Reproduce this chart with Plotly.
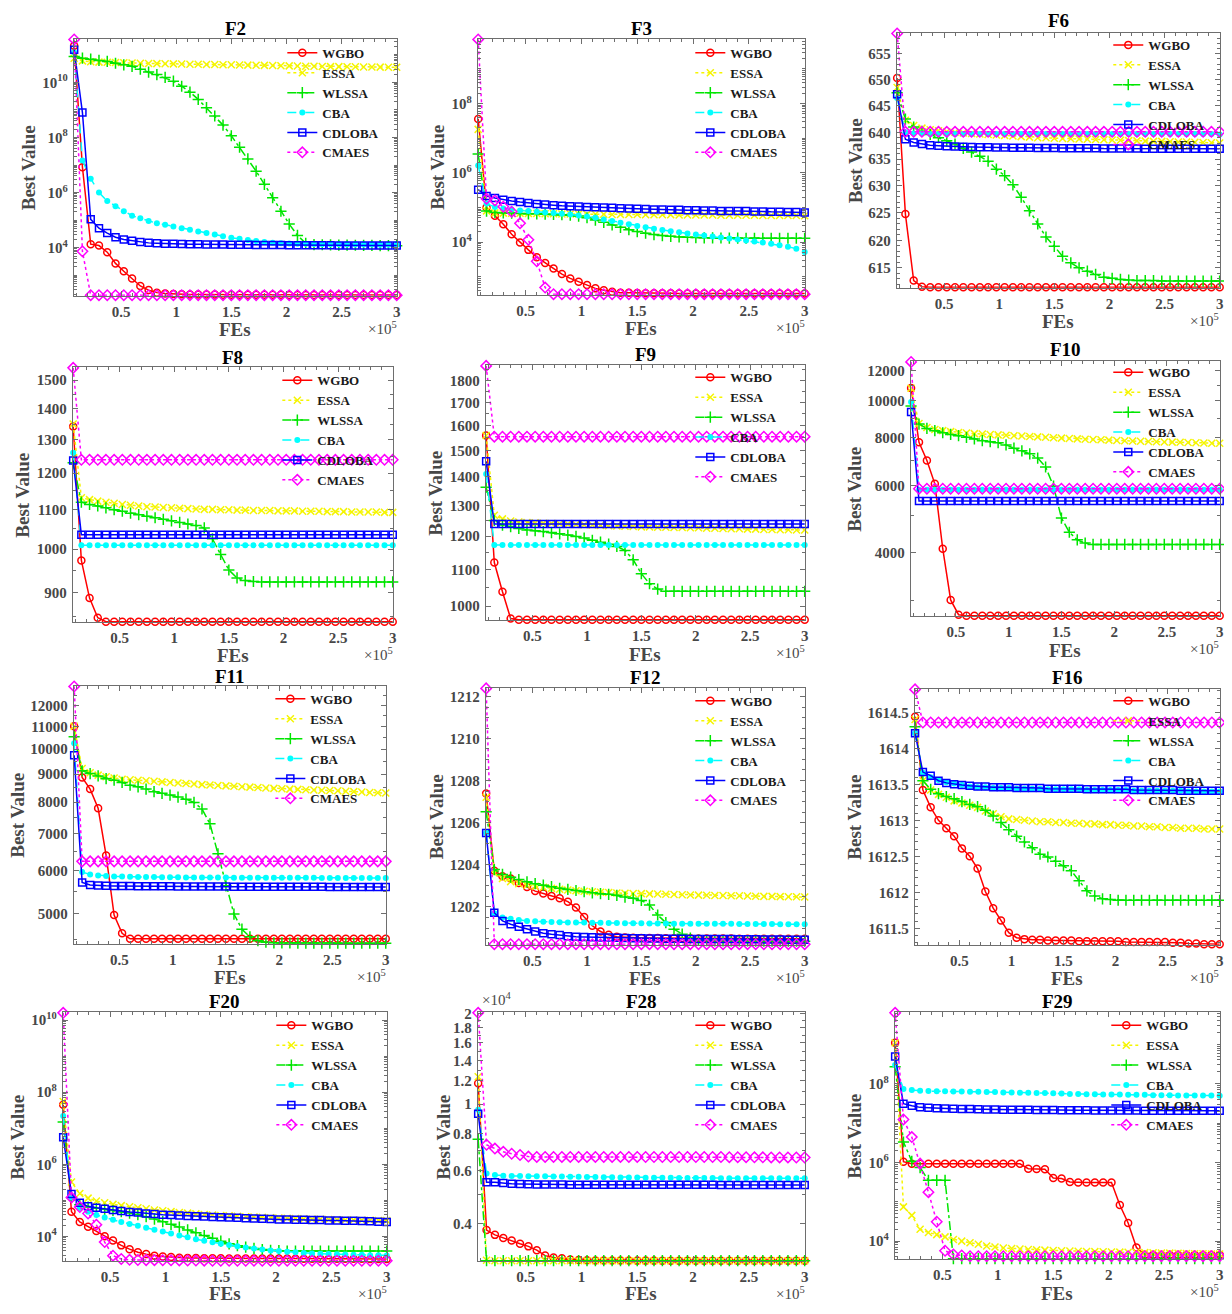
import math
import plotly.graph_objects as go

# ---------------- data ----------------
FES = [7500, 15000, 22500, 30000, 37500, 45000, 52500, 60000, 67500, 75000,
       82500, 90000, 97500, 105000, 112500, 120000, 127500, 135000, 142500, 150000,
       157500, 165000, 172500, 180000, 187500, 195000, 202500, 210000, 217500, 225000,
       232500, 240000, 247500, 255000, 262500, 270000, 277500, 285000, 292500, 300000]
XTICK_VALS = [50000, 100000, 150000, 200000, 250000, 300000]
XTICK_TEXT = ["0.5", "1", "1.5", "2", "2.5", "3"]
METHODS = ["WGBO", "ESSA", "WLSSA", "CBA", "CDLOBA", "CMAES"]

F2_WGBO = [2.1e11, 8.3e6, 1.35e4, 1.2e4, 6.9e3, 2.7e3, 1.4e3, 770, 410, 290,
           235, 218, 210, 206, 203, 201, 200, 199, 198, 197,
           197, 196, 196, 195, 195, 195, 194, 194, 194, 194,
           193, 193, 193, 193, 193, 192, 192, 192, 192, 192]
F2_ESSA = [7.5e10, 6.0e10, 5.6e10, 5.4e10, 5.3e10, 5.2e10, 5.1e10, 5.0e10, 4.9e10, 4.8e10,
           4.75e10, 4.7e10, 4.65e10, 4.6e10, 4.55e10, 4.5e10, 4.45e10, 4.4e10, 4.35e10, 4.3e10,
           4.25e10, 4.2e10, 4.15e10, 4.1e10, 4.05e10, 4.0e10, 3.95e10, 3.9e10, 3.85e10, 3.8e10,
           3.75e10, 3.7e10, 3.7e10, 3.65e10, 3.65e10, 3.6e10, 3.6e10, 3.55e10, 3.5e10, 3.5e10]
F2_WLSSA = [8.6e10, 7.5e10, 6.9e10, 6.2e10, 5.7e10, 4.9e10, 4.3e10, 3.8e10, 3.0e10, 2.35e10,
            1.9e10, 1.5e10, 1.1e10, 7.2e9, 4.4e9, 2.4e9, 1.2e9, 6.0e8, 2.8e8, 1.15e8,
            4.4e7, 1.66e7, 6.0e6, 2.0e6, 6.5e5, 2.1e5, 7.2e4, 2.8e4, 1.45e4, 1.3e4,
            1.28e4, 1.26e4, 1.25e4, 1.24e4, 1.23e4, 1.22e4, 1.21e4, 1.2e4, 1.2e4, 1.19e4]
F2_CBA = [1.2e11, 1.45e7, 3.2e6, 1.0e6, 4.9e5, 3.2e5, 2.1e5, 1.45e5, 1.17e5, 9.4e4,
          7.7e4, 6.8e4, 5.9e4, 5.1e4, 4.5e4, 3.9e4, 3.4e4, 3.0e4, 2.6e4, 2.3e4,
          2.1e4, 1.9e4, 1.75e4, 1.6e4, 1.5e4, 1.45e4, 1.42e4, 1.4e4, 1.38e4, 1.36e4,
          1.35e4, 1.34e4, 1.33e4, 1.32e4, 1.31e4, 1.3e4, 1.3e4, 1.29e4, 1.28e4, 1.28e4]
F2_CDLOBA = [1.5e11, 8.0e8, 1.07e5, 5.1e4, 3.4e4, 2.4e4, 2.0e4, 1.8e4, 1.6e4, 1.5e4,
             1.45e4, 1.4e4, 1.38e4, 1.36e4, 1.34e4, 1.33e4, 1.32e4, 1.31e4, 1.3e4, 1.29e4,
             1.28e4, 1.27e4, 1.26e4, 1.26e4, 1.25e4, 1.25e4, 1.24e4, 1.24e4, 1.23e4, 1.23e4,
             1.22e4, 1.22e4, 1.21e4, 1.21e4, 1.21e4, 1.2e4, 1.2e4, 1.2e4, 1.2e4, 1.2e4]
F2_CMAES = [3.6e11, 7.4e3, 190, 190, 190, 190, 190, 190, 190, 190,
            190, 190, 190, 190, 190, 190, 190, 190, 190, 190,
            190, 190, 190, 190, 190, 190, 190, 190, 190, 190,
            190, 190, 190, 190, 190, 190, 190, 190, 190, 190]

F3_WGBO = [3.6e7, 1.0e5, 5.8e4, 3.3e4, 1.7e4, 9.8e3, 6.0e3, 3.7e3, 2.5e3, 1.74e3,
           1.2e3, 900, 720, 580, 465, 410, 370, 350, 345, 340,
           338, 336, 335, 334, 333, 332, 332, 331, 331, 330,
           330, 330, 329, 329, 329, 328, 328, 328, 328, 328]
F3_ESSA = [1.8e7, 8.0e4, 7.0e4, 6.9e4, 6.8e4, 6.8e4, 6.7e4, 6.7e4, 6.6e4, 6.6e4,
           6.5e4, 6.5e4, 6.5e4, 6.4e4, 6.4e4, 6.4e4, 6.3e4, 6.3e4, 6.3e4, 6.3e4,
           6.2e4, 6.2e4, 6.2e4, 6.2e4, 6.1e4, 6.1e4, 6.1e4, 6.1e4, 6.1e4, 6.0e4,
           6.0e4, 6.0e4, 6.0e4, 6.0e4, 5.9e4, 5.9e4, 5.9e4, 5.9e4, 5.9e4, 5.8e4]
F3_WLSSA = [3.5e6, 7.9e4, 7.2e4, 7.0e4, 6.9e4, 6.7e4, 6.6e4, 6.6e4, 6.4e4, 6.3e4,
            6.2e4, 6.0e4, 5.65e4, 5.07e4, 4.35e4, 3.73e4, 3.13e4, 2.68e4, 2.3e4, 2.02e4,
            1.81e4, 1.66e4, 1.55e4, 1.48e4, 1.42e4, 1.39e4, 1.36e4, 1.34e4, 1.33e4, 1.32e4,
            1.31e4, 1.31e4, 1.3e4, 1.3e4, 1.3e4, 1.3e4, 1.3e4, 1.3e4, 1.3e4, 1.3e4]
F3_CBA = [1.62e6, 1.3e5, 1.04e5, 9.4e4, 8.8e4, 8.2e4, 7.9e4, 7.5e4, 7.2e4, 6.9e4,
          6.6e4, 6.3e4, 5.9e4, 5.5e4, 5.07e4, 4.54e4, 4.07e4, 3.65e4, 3.27e4, 2.93e4,
          2.68e4, 2.46e4, 2.25e4, 2.06e4, 1.93e4, 1.77e4, 1.66e4, 1.55e4, 1.45e4, 1.36e4,
          1.27e4, 1.19e4, 1.12e4, 1.04e4, 9.8e3, 9.0e3, 8.2e3, 7.4e3, 6.5e3, 5.2e3]
F3_CDLOBA = [3.27e5, 2.15e5, 1.89e5, 1.69e5, 1.55e5, 1.45e5, 1.36e5, 1.27e5, 1.22e5, 1.17e5,
             1.12e5, 1.09e5, 1.07e5, 1.04e5, 1.02e5, 1.0e5, 9.8e4, 9.5e4, 9.4e4, 9.2e4,
             9.0e4, 8.8e4, 8.8e4, 8.6e4, 8.6e4, 8.4e4, 8.4e4, 8.2e4, 8.2e4, 8.0e4,
             8.0e4, 7.9e4, 7.9e4, 7.7e4, 7.7e4, 7.5e4, 7.5e4, 7.4e4, 7.4e4, 7.2e4]
F3_CMAES = [7.1e9, 1.8e5, 1.6e5, 1.05e5, 7.6e4, 3.5e4, 1.17e4, 2.8e3, 490, 316,
            316, 316, 316, 316, 316, 316, 316, 316, 316, 316,
            316, 316, 316, 316, 316, 316, 316, 316, 316, 316,
            316, 316, 316, 316, 316, 316, 316, 316, 316, 316]

F6_WGBO = [650.3, 624.8, 612.7, 611.6, 611.5, 611.5, 611.5, 611.5, 611.5, 611.5,
           611.5, 611.5, 611.5, 611.5, 611.5, 611.5, 611.5, 611.5, 611.5, 611.5,
           611.5, 611.5, 611.5, 611.5, 611.5, 611.5, 611.5, 611.5, 611.5, 611.5,
           611.5, 611.5, 611.5, 611.5, 611.5, 611.5, 611.5, 611.5, 611.5, 611.5]
F6_ESSA = [648.5, 642.3, 641.3, 640.8, 640.5, 640.3, 640.1, 640.0, 639.9, 639.8,
           639.7, 639.6, 639.5, 639.4, 639.3, 639.2, 639.1, 639.0, 639.0, 638.9,
           638.85, 638.8, 638.75, 638.7, 638.65, 638.6, 638.55, 638.5, 638.45, 638.4,
           638.35, 638.3, 638.3, 638.25, 638.2, 638.2, 638.15, 638.1, 638.05, 638.0]
F6_WLSSA = [647.5, 642.5, 641.0, 640.2, 639.6, 639.0, 638.4, 637.8, 637.0, 636.3,
            635.5, 634.6, 633.1, 631.9, 630.2, 627.9, 625.4, 623.0, 620.6, 618.9,
            617.1, 615.9, 615.0, 614.4, 613.8, 613.3, 613.1, 612.9, 612.8, 612.7,
            612.7, 612.7, 612.6, 612.6, 612.6, 612.6, 612.6, 612.6, 612.6, 612.6]
F6_CBA = [646.5, 640.0, 639.8, 639.8, 639.7, 639.7, 639.7, 639.7, 639.7, 639.7,
          639.7, 639.7, 639.7, 639.7, 639.7, 639.7, 639.7, 639.7, 639.7, 639.7,
          639.7, 639.7, 639.7, 639.7, 639.7, 639.7, 639.7, 639.7, 639.7, 639.7,
          639.7, 639.7, 639.7, 639.7, 639.7, 639.7, 639.7, 639.7, 639.7, 639.6]
F6_CDLOBA = [647.2, 638.7, 638.1, 637.8, 637.6, 637.5, 637.4, 637.35, 637.3, 637.25,
             637.2, 637.2, 637.15, 637.15, 637.1, 637.1, 637.1, 637.05, 637.05, 637.05,
             637.0, 637.0, 637.0, 637.0, 637.0, 636.95, 636.95, 636.95, 636.95, 636.95,
             636.9, 636.9, 636.9, 636.9, 636.9, 636.9, 636.9, 636.9, 636.9, 636.9]
F6_CMAES = [658.9, 640.1, 640.1, 640.1, 640.1, 640.1, 640.1, 640.1, 640.1, 640.1,
            640.1, 640.1, 640.1, 640.1, 640.1, 640.1, 640.1, 640.1, 640.1, 640.1,
            640.1, 640.1, 640.1, 640.1, 640.1, 640.1, 640.1, 640.1, 640.1, 640.1,
            640.1, 640.1, 640.1, 640.1, 640.1, 640.1, 640.1, 640.1, 640.1, 640.1]

F8_WGBO = [1342, 973, 889, 848, 840, 840, 840, 840, 840, 840,
           840, 840, 840, 840, 840, 840, 840, 840, 840, 840,
           840, 840, 840, 840, 840, 840, 840, 840, 840, 840,
           840, 840, 840, 840, 840, 840, 840, 840, 840, 840]
F8_ESSA = [1350, 1131, 1126, 1122, 1119, 1116, 1113, 1111, 1109, 1107,
           1106, 1105, 1104, 1103, 1102, 1101, 1100, 1100, 1099, 1099,
           1098, 1098, 1097, 1097, 1097, 1096, 1096, 1096, 1095, 1095,
           1095, 1094, 1094, 1094, 1093, 1093, 1093, 1093, 1092, 1092]
F8_WLSSA = [1230, 1119, 1113, 1109, 1104, 1099, 1095, 1090, 1086, 1082,
            1078, 1074, 1070, 1066, 1062, 1058, 1052, 1025, 987, 951,
            933, 927, 925, 924, 924, 924, 924, 924, 924, 924,
            924, 924, 924, 924, 924, 924, 924, 924, 924, 924]
F8_CBA = [1260, 1009, 1009, 1009, 1009, 1009, 1009, 1009, 1009, 1009,
          1009, 1009, 1009, 1009, 1009, 1009, 1009, 1009, 1009, 1009,
          1009, 1009, 1009, 1009, 1009, 1009, 1009, 1009, 1009, 1009,
          1009, 1009, 1009, 1009, 1009, 1009, 1009, 1009, 1009, 1009]
F8_CDLOBA = [1237, 1035, 1035, 1035, 1035, 1035, 1035, 1035, 1035, 1035,
             1035, 1035, 1035, 1035, 1035, 1035, 1035, 1035, 1035, 1035,
             1035, 1035, 1035, 1035, 1035, 1035, 1035, 1035, 1035, 1035,
             1035, 1035, 1035, 1035, 1035, 1035, 1035, 1035, 1035, 1035]
F8_CMAES = [1545, 1239, 1239, 1239, 1239, 1239, 1239, 1239, 1239, 1239,
            1239, 1239, 1239, 1239, 1239, 1239, 1239, 1239, 1239, 1239,
            1239, 1239, 1239, 1239, 1239, 1239, 1239, 1239, 1239, 1239,
            1239, 1239, 1239, 1239, 1239, 1239, 1239, 1239, 1239, 1239]

F9_WGBO = [1560, 1120, 1038, 968, 965, 965, 965, 965, 965, 965,
           965, 965, 965, 965, 965, 965, 965, 965, 965, 965,
           965, 965, 965, 965, 965, 965, 965, 965, 965, 965,
           965, 965, 965, 965, 965, 965, 965, 965, 965, 965]
F9_ESSA = [1560, 1267, 1255, 1248, 1245, 1243, 1242, 1241, 1240, 1239,
           1238, 1237, 1236, 1235, 1234, 1233, 1232, 1231, 1230, 1229,
           1229, 1228, 1228, 1227, 1227, 1226, 1226, 1225, 1225, 1224,
           1223, 1223, 1222, 1222, 1221, 1221, 1220, 1220, 1219, 1219]
F9_WLSSA = [1363, 1250, 1235, 1230, 1224, 1219, 1217, 1214, 1211, 1207,
            1203, 1199, 1194, 1187, 1181, 1175, 1168, 1156, 1128, 1088,
            1060, 1045, 1039, 1039, 1039, 1039, 1039, 1039, 1039, 1039,
            1039, 1039, 1039, 1039, 1039, 1039, 1039, 1039, 1039, 1039]
F9_CBA = [1411, 1172, 1172, 1172, 1172, 1172, 1172, 1172, 1172, 1172,
          1172, 1172, 1172, 1172, 1172, 1172, 1172, 1172, 1172, 1172,
          1172, 1172, 1172, 1172, 1172, 1172, 1172, 1172, 1172, 1172,
          1172, 1172, 1172, 1172, 1172, 1172, 1172, 1172, 1172, 1172]
F9_CDLOBA = [1458, 1238, 1238, 1238, 1238, 1238, 1238, 1238, 1238, 1238,
             1238, 1238, 1238, 1238, 1238, 1238, 1238, 1238, 1238, 1238,
             1238, 1238, 1238, 1238, 1238, 1238, 1238, 1238, 1238, 1238,
             1238, 1238, 1238, 1238, 1238, 1238, 1238, 1238, 1238, 1238]
F9_CMAES = [1870, 1555, 1555, 1555, 1555, 1555, 1555, 1555, 1555, 1555,
            1555, 1555, 1555, 1555, 1555, 1555, 1555, 1555, 1555, 1555,
            1555, 1555, 1555, 1555, 1555, 1555, 1555, 1555, 1555, 1555,
            1555, 1555, 1555, 1555, 1555, 1555, 1555, 1555, 1555, 1555]

F10_WGBO = [10820, 7790, 6985, 6063, 4098, 3009, 2751, 2735, 2735, 2735,
            2735, 2735, 2735, 2735, 2735, 2735, 2735, 2735, 2735, 2735,
            2735, 2735, 2735, 2735, 2735, 2735, 2735, 2735, 2735, 2735,
            2735, 2735, 2735, 2735, 2735, 2735, 2735, 2735, 2735, 2735]
F10_ESSA = [10800, 8730, 8520, 8420, 8360, 8310, 8270, 8240, 8210, 8190,
            8170, 8150, 8130, 8110, 8090, 8070, 8050, 8030, 8010, 7990,
            7970, 7955, 7940, 7925, 7910, 7895, 7880, 7865, 7850, 7840,
            7830, 7820, 7810, 7800, 7790, 7780, 7770, 7760, 7750, 7745]
F10_WLSSA = [9700, 8700, 8470, 8360, 8254, 8170, 8110, 8030, 7950, 7870,
             7820, 7770, 7670, 7518, 7400, 7268, 7085, 6712, 5979, 4932,
             4526, 4324, 4239, 4205, 4205, 4205, 4205, 4205, 4205, 4205,
             4205, 4205, 4205, 4205, 4205, 4205, 4205, 4205, 4205, 4205]
F10_CBA = [9934, 5850, 5850, 5850, 5850, 5850, 5850, 5850, 5850, 5850,
           5850, 5850, 5850, 5850, 5850, 5850, 5850, 5850, 5850, 5850,
           5850, 5850, 5850, 5850, 5850, 5850, 5850, 5850, 5850, 5850,
           5850, 5850, 5850, 5850, 5850, 5850, 5850, 5850, 5850, 5850]
F10_CDLOBA = [9358, 5467, 5467, 5467, 5467, 5467, 5467, 5467, 5467, 5467,
              5467, 5467, 5467, 5467, 5467, 5467, 5467, 5467, 5467, 5467,
              5467, 5467, 5467, 5467, 5467, 5467, 5467, 5467, 5467, 5467,
              5467, 5467, 5467, 5467, 5467, 5467, 5467, 5467, 5467, 5467]
F10_CMAES = [12660, 5886, 5886, 5886, 5886, 5886, 5886, 5886, 5886, 5886,
             5886, 5886, 5886, 5886, 5886, 5886, 5886, 5886, 5886, 5886,
             5886, 5886, 5886, 5886, 5886, 5886, 5886, 5886, 5886, 5886,
             5886, 5886, 5886, 5886, 5886, 5886, 5886, 5886, 5886, 5886]

F11_WGBO = [11000, 8872, 8450, 7795, 6395, 4977, 4611, 4504, 4504, 4504,
            4504, 4504, 4504, 4504, 4504, 4504, 4504, 4504, 4504, 4504,
            4504, 4504, 4504, 4504, 4504, 4504, 4504, 4504, 4504, 4504,
            4504, 4504, 4504, 4504, 4504, 4504, 4504, 4504, 4504, 4504]
F11_ESSA = [11000, 9211, 9050, 8960, 8900, 8850, 8810, 8790, 8770, 8750,
            8730, 8710, 8690, 8670, 8650, 8630, 8610, 8595, 8580, 8565,
            8550, 8535, 8520, 8505, 8490, 8475, 8460, 8450, 8440, 8430,
            8420, 8410, 8400, 8390, 8375, 8360, 8345, 8330, 8320, 8310]
F11_WLSSA = [10530, 9123, 9020, 8930, 8830, 8770, 8690, 8590, 8530, 8450,
             8360, 8300, 8240, 8170, 8100, 7991, 7773, 7302, 6439, 5627,
             4999, 4690, 4542, 4470, 4440, 4430, 4428, 4426, 4425, 4425,
             4424, 4424, 4424, 4423, 4423, 4423, 4423, 4423, 4423, 4423]
F11_CBA = [10240, 5966, 5900, 5880, 5865, 5855, 5850, 5845, 5842, 5840,
           5838, 5836, 5834, 5832, 5831, 5830, 5829, 5828, 5827, 5826,
           5825, 5824, 5823, 5823, 5822, 5822, 5821, 5821, 5820, 5820,
           5820, 5819, 5819, 5819, 5818, 5818, 5818, 5817, 5817, 5817]
F11_CDLOBA = [9739, 5706, 5650, 5635, 5627, 5625, 5623, 5621, 5620, 5619,
              5618, 5617, 5616, 5615, 5614, 5613, 5612, 5611, 5610, 5610,
              5609, 5609, 5608, 5608, 5607, 5607, 5606, 5606, 5605, 5605,
              5604, 5604, 5603, 5603, 5602, 5602, 5601, 5601, 5600, 5600]
F11_CMAES = [13010, 6237, 6237, 6237, 6237, 6237, 6237, 6237, 6237, 6237,
             6237, 6237, 6237, 6237, 6237, 6237, 6237, 6237, 6237, 6237,
             6237, 6237, 6237, 6237, 6237, 6237, 6237, 6237, 6237, 6237,
             6237, 6237, 6237, 6237, 6237, 6237, 6237, 6237, 6237, 6237]

F12_WGBO = [1207.38, 1203.72, 1203.46, 1203.35, 1203.14, 1202.94, 1202.75, 1202.64, 1202.52, 1202.41,
            1202.25, 1201.97, 1201.53, 1201.11, 1200.84, 1200.68, 1200.59, 1200.56, 1200.54, 1200.53,
            1200.53, 1200.53, 1200.52, 1200.52, 1200.52, 1200.52, 1200.51, 1200.51, 1200.51, 1200.51,
            1200.51, 1200.5, 1200.5, 1200.5, 1200.5, 1200.5, 1200.5, 1200.5, 1200.5, 1200.5]
F12_ESSA = [1207.2, 1203.6, 1203.35, 1203.2, 1203.1, 1203.03, 1202.98, 1202.93, 1202.88, 1202.84,
            1202.8, 1202.77, 1202.74, 1202.72, 1202.7, 1202.68, 1202.66, 1202.65, 1202.64, 1202.63,
            1202.62, 1202.61, 1202.6, 1202.59, 1202.58, 1202.57, 1202.56, 1202.55, 1202.54, 1202.54,
            1202.53, 1202.53, 1202.52, 1202.51, 1202.5, 1202.5, 1202.49, 1202.48, 1202.48, 1202.47]
F12_WLSSA = [1206.51, 1203.77, 1203.54, 1203.41, 1203.3, 1203.19, 1203.1, 1203.03, 1202.96, 1202.88,
             1202.83, 1202.78, 1202.72, 1202.67, 1202.63, 1202.6, 1202.55, 1202.47, 1202.41, 1202.31,
             1202.09, 1201.62, 1201.26, 1200.95, 1200.71, 1200.53, 1200.43, 1200.41, 1200.4, 1200.4,
             1200.39, 1200.39, 1200.39, 1200.38, 1200.38, 1200.38, 1200.38, 1200.38, 1200.38, 1200.38]
F12_CBA = [1205.5, 1201.7, 1201.5, 1201.44, 1201.38, 1201.34, 1201.32, 1201.3, 1201.29, 1201.28,
           1201.27, 1201.26, 1201.26, 1201.25, 1201.25, 1201.24, 1201.24, 1201.23, 1201.23, 1201.23,
           1201.22, 1201.22, 1201.22, 1201.21, 1201.21, 1201.21, 1201.2, 1201.2, 1201.2, 1201.2,
           1201.2, 1201.19, 1201.19, 1201.19, 1201.19, 1201.19, 1201.18, 1201.18, 1201.18, 1201.18]
F12_CDLOBA = [1205.5, 1201.73, 1201.34, 1201.18, 1201.06, 1200.95, 1200.84, 1200.76, 1200.71, 1200.67,
              1200.62, 1200.59, 1200.58, 1200.57, 1200.56, 1200.55, 1200.54, 1200.53, 1200.52, 1200.52,
              1200.51, 1200.51, 1200.5, 1200.5, 1200.5, 1200.49, 1200.49, 1200.49, 1200.48, 1200.48,
              1200.48, 1200.47, 1200.47, 1200.47, 1200.46, 1200.46, 1200.46, 1200.45, 1200.45, 1200.45]
F12_CMAES = [1212.39, 1200.24, 1200.24, 1200.24, 1200.24, 1200.24, 1200.24, 1200.24, 1200.24, 1200.24,
             1200.24, 1200.24, 1200.24, 1200.24, 1200.24, 1200.24, 1200.24, 1200.24, 1200.24, 1200.24,
             1200.24, 1200.24, 1200.24, 1200.24, 1200.24, 1200.24, 1200.24, 1200.24, 1200.24, 1200.24,
             1200.24, 1200.24, 1200.24, 1200.24, 1200.24, 1200.24, 1200.24, 1200.24, 1200.24, 1200.24]

F16_WGBO = [1614.44, 1613.42, 1613.18, 1613.0, 1612.89, 1612.78, 1612.61, 1612.5, 1612.33, 1612.01,
            1611.78, 1611.61, 1611.44, 1611.37, 1611.35, 1611.34, 1611.34, 1611.33, 1611.33, 1611.33,
            1611.33, 1611.32, 1611.32, 1611.32, 1611.32, 1611.32, 1611.32, 1611.31, 1611.31, 1611.31,
            1611.31, 1611.31, 1611.31, 1611.3, 1611.3, 1611.29, 1611.29, 1611.28, 1611.28, 1611.28]
F16_ESSA = [1614.4, 1613.55, 1613.42, 1613.36, 1613.32, 1613.27, 1613.24, 1613.21, 1613.18, 1613.13,
            1613.09, 1613.05, 1613.02, 1613.01, 1613.0, 1612.99, 1612.98, 1612.98, 1612.97, 1612.97,
            1612.96, 1612.96, 1612.95, 1612.95, 1612.94, 1612.94, 1612.93, 1612.93, 1612.92, 1612.92,
            1612.91, 1612.91, 1612.9, 1612.9, 1612.89, 1612.89, 1612.89, 1612.88, 1612.88, 1612.88]
F16_WLSSA = [1614.3, 1613.55, 1613.43, 1613.37, 1613.33, 1613.3, 1613.26, 1613.22, 1613.19, 1613.14,
             1613.06, 1612.97, 1612.87, 1612.78, 1612.7, 1612.62, 1612.53, 1612.49, 1612.43, 1612.37,
             1612.3, 1612.16, 1612.02, 1611.95, 1611.91, 1611.9, 1611.89, 1611.89, 1611.89, 1611.89,
             1611.89, 1611.89, 1611.89, 1611.89, 1611.89, 1611.89, 1611.89, 1611.89, 1611.89, 1611.89]
F16_CBA = [1614.21, 1613.66, 1613.6, 1613.56, 1613.53, 1613.51, 1613.49, 1613.47, 1613.46, 1613.46,
           1613.45, 1613.45, 1613.45, 1613.44, 1613.44, 1613.44, 1613.44, 1613.43, 1613.43, 1613.43,
           1613.43, 1613.43, 1613.42, 1613.42, 1613.42, 1613.42, 1613.42, 1613.42, 1613.41, 1613.41,
           1613.41, 1613.41, 1613.41, 1613.41, 1613.41, 1613.4, 1613.4, 1613.4, 1613.4, 1613.4]
F16_CDLOBA = [1614.21, 1613.67, 1613.62, 1613.55, 1613.52, 1613.5, 1613.49, 1613.48, 1613.47, 1613.47,
              1613.46, 1613.46, 1613.46, 1613.45, 1613.45, 1613.45, 1613.45, 1613.44, 1613.44, 1613.44,
              1613.44, 1613.44, 1613.43, 1613.43, 1613.43, 1613.43, 1613.43, 1613.43, 1613.42, 1613.42,
              1613.42, 1613.42, 1613.42, 1613.42, 1613.41, 1613.41, 1613.41, 1613.41, 1613.41, 1613.41]
F16_CMAES = [1614.82, 1614.36, 1614.36, 1614.36, 1614.36, 1614.36, 1614.36, 1614.36, 1614.36, 1614.36,
             1614.36, 1614.36, 1614.36, 1614.36, 1614.36, 1614.36, 1614.36, 1614.36, 1614.36, 1614.36,
             1614.36, 1614.36, 1614.36, 1614.36, 1614.36, 1614.36, 1614.36, 1614.36, 1614.36, 1614.36,
             1614.36, 1614.36, 1614.36, 1614.36, 1614.36, 1614.36, 1614.36, 1614.36, 1614.36, 1614.36]

F20_WGBO = [4.5e7, 4.8e4, 2.5e4, 1.84e4, 1.4e4, 1.0e4, 7.6e3, 5.6e3, 4.4e3, 3.6e3,
            3.2e3, 2.9e3, 2.75e3, 2.65e3, 2.55e3, 2.5e3, 2.48e3, 2.46e3, 2.45e3, 2.44e3,
            2.43e3, 2.42e3, 2.42e3, 2.41e3, 2.41e3, 2.4e3, 2.4e3, 2.4e3, 2.39e3, 2.39e3,
            2.39e3, 2.38e3, 2.38e3, 2.38e3, 2.37e3, 2.37e3, 2.37e3, 2.36e3, 2.36e3, 2.36e3]
F20_ESSA = [5.5e7, 3.2e5, 1.55e5, 1.15e5, 9.5e4, 8.5e4, 7.7e4, 7.1e4, 6.6e4, 6.2e4,
            5.8e4, 5.4e4, 5.1e4, 4.85e4, 4.6e4, 4.4e4, 4.2e4, 4.05e4, 3.9e4, 3.8e4,
            3.7e4, 3.6e4, 3.5e4, 3.42e4, 3.35e4, 3.28e4, 3.22e4, 3.16e4, 3.1e4, 3.05e4,
            3.0e4, 2.96e4, 2.92e4, 2.88e4, 2.85e4, 2.82e4, 2.8e4, 2.78e4, 2.76e4, 2.75e4]
F20_WLSSA = [1.5e7, 1.2e5, 7.5e4, 6.5e4, 6.0e4, 5.6e4, 5.2e4, 4.8e4, 4.4e4, 4.0e4,
             3.5e4, 3.0e4, 2.55e4, 2.15e4, 1.8e4, 1.5e4, 1.25e4, 1.05e4, 8.8e3, 7.3e3,
             6.2e3, 5.5e3, 5.0e3, 4.6e3, 4.3e3, 4.1e3, 4.0e3, 3.9e3, 3.9e3, 3.9e3,
             3.9e3, 3.9e3, 3.9e3, 3.9e3, 3.9e3, 3.9e3, 3.9e3, 3.9e3, 3.9e3, 3.9e3]
F20_CBA = [2.2e7, 1.2e5, 6.25e4, 4.8e4, 3.9e4, 3.3e4, 2.88e4, 2.5e4, 2.2e4, 1.95e4,
           1.73e4, 1.53e4, 1.35e4, 1.2e4, 1.06e4, 9.4e3, 8.3e3, 7.5e3, 6.8e3, 6.2e3,
           5.7e3, 5.3e3, 4.9e3, 4.6e3, 4.3e3, 4.06e3, 3.9e3, 3.74e3, 3.6e3, 3.45e3,
           3.35e3, 3.3e3, 3.2e3, 3.18e3, 3.1e3, 3.05e3, 3.05e3, 3.0e3, 3.0e3, 2.95e3]
F20_CDLOBA = [5.6e6, 1.5e5, 8.5e4, 6.8e4, 6.25e4, 5.8e4, 5.4e4, 5.0e4, 4.7e4, 4.6e4,
              4.3e4, 4.16e4, 3.99e4, 3.9e4, 3.75e4, 3.67e4, 3.6e4, 3.53e4, 3.46e4, 3.39e4,
              3.32e4, 3.25e4, 3.19e4, 3.12e4, 3.06e4, 3.0e4, 2.94e4, 2.94e4, 2.88e4, 2.88e4,
              2.82e4, 2.82e4, 2.76e4, 2.76e4, 2.71e4, 2.71e4, 2.65e4, 2.6e4, 2.55e4, 2.5e4]
F20_CMAES = [1.6e10, 1.2e5, 6.5e4, 4.3e4, 2.1e4, 6.9e3, 2.9e3, 2.34e3, 2.22e3, 2.2e3,
             2.18e3, 2.17e3, 2.16e3, 2.15e3, 2.14e3, 2.13e3, 2.12e3, 2.11e3, 2.1e3, 2.1e3,
             2.1e3, 2.1e3, 2.1e3, 2.1e3, 2.1e3, 2.1e3, 2.1e3, 2.1e3, 2.1e3, 2.1e3,
             2.1e3, 2.1e3, 2.1e3, 2.1e3, 2.1e3, 2.1e3, 2.1e3, 2.1e3, 2.1e3, 2.1e3]

F28_WGBO = [11750, 3808, 3671, 3583, 3513, 3428, 3361, 3265, 3131, 3085,
            3070, 3040, 3025, 3020, 3018, 3016, 3015, 3014, 3014, 3013,
            3013, 3013, 3012, 3012, 3012, 3012, 3012, 3012, 3011, 3011,
            3011, 3011, 3011, 3011, 3011, 3011, 3011, 3011, 3011, 3011]
F28_ESSA = [12340, 3020, 3011, 3011, 3011, 3011, 3011, 3011, 3011, 3011,
            3011, 3011, 3011, 3011, 3011, 3011, 3011, 3011, 3011, 3011,
            3011, 3011, 3011, 3011, 3011, 3011, 3011, 3011, 3011, 3011,
            3011, 3011, 3011, 3011, 3011, 3011, 3011, 3011, 3011, 3011]
F28_WLSSA = [7636, 3011, 3011, 3011, 3011, 3011, 3011, 3011, 3011, 3011,
             3011, 3011, 3011, 3011, 3011, 3011, 3011, 3011, 3011, 3011,
             3011, 3011, 3011, 3011, 3011, 3011, 3011, 3011, 3011, 3011,
             3011, 3011, 3011, 3011, 3011, 3011, 3011, 3011, 3011, 3011]
F28_CBA = [9592, 5876, 5805, 5777, 5770, 5765, 5760, 5755, 5750, 5745,
           5740, 5735, 5730, 5725, 5720, 5715, 5710, 5705, 5700, 5695,
           5690, 5688, 5686, 5684, 5682, 5680, 5678, 5676, 5674, 5672,
           5670, 5669, 5668, 5667, 5666, 5665, 5664, 5664, 5663, 5663]
F28_CDLOBA = [9290, 5500, 5500, 5460, 5430, 5420, 5410, 5405, 5400, 5400,
              5398, 5396, 5395, 5394, 5394, 5393, 5393, 5392, 5392, 5391,
              5391, 5390, 5390, 5389, 5389, 5388, 5388, 5387, 5387, 5386,
              5386, 5385, 5385, 5384, 5384, 5383, 5383, 5382, 5382, 5380]
F28_CMAES = [20150, 7325, 7114, 6940, 6839, 6773, 6691, 6675, 6675, 6675,
             6675, 6675, 6675, 6675, 6675, 6675, 6675, 6675, 6675, 6675,
             6670, 6670, 6670, 6670, 6670, 6670, 6670, 6670, 6670, 6670,
             6660, 6660, 6660, 6655, 6655, 6650, 6650, 6650, 6645, 6643]

F29_WGBO = [1.1e9, 1.04e6, 9.2e5, 9.2e5, 9.2e5, 9.2e5, 9.2e5, 9.2e5, 9.2e5, 9.2e5,
            9.2e5, 9.2e5, 9.2e5, 9.2e5, 9.2e5, 9.2e5, 6.9e5, 6.8e5, 6.7e5, 4.0e5,
            3.9e5, 3.19e5, 3.07e5, 3.07e5, 3.07e5, 3.07e5, 3.07e5, 8.3e4, 2.9e4, 6.9e3,
            4.5e3, 4.5e3, 4.5e3, 4.5e3, 4.5e3, 4.5e3, 4.5e3, 4.5e3, 4.5e3, 4.5e3]
F29_ESSA = [1.1e9, 7.4e4, 4.5e4, 2.0e4, 1.66e4, 1.46e4, 1.28e4, 1.1e4, 1.0e4, 9.1e3,
            8.3e3, 7.5e3, 7.1e3, 6.7e3, 6.5e3, 6.3e3, 6.15e3, 6.0e3, 5.9e3, 5.8e3,
            5.7e3, 5.6e3, 5.5e3, 5.45e3, 5.4e3, 5.35e3, 5.3e3, 5.25e3, 5.2e3, 5.15e3,
            5.1e3, 5.05e3, 5.0e3, 4.95e3, 4.9e3, 4.85e3, 4.8e3, 4.75e3, 4.7e3, 4.7e3]
F29_WLSSA = [2.7e8, 3.3e6, 1.07e6, 7.4e5, 3.5e5, 3.5e5, 3.5e5, 3570, 3570, 3570,
             3570, 3570, 3570, 3570, 3570, 3570, 3570, 3570, 3570, 3570,
             3570, 3570, 3570, 3570, 3570, 3570, 3570, 3570, 3570, 3570,
             3570, 3570, 3570, 3570, 3570, 3570, 3570, 3570, 3570, 3570]
F29_CBA = [3.0e8, 7.3e7, 6.9e7, 6.6e7, 6.5e7, 6.4e7, 6.4e7, 6.3e7, 6.3e7, 6.2e7,
           6.2e7, 6.1e7, 6.1e7, 6.0e7, 6.0e7, 5.9e7, 5.9e7, 5.8e7, 5.8e7, 5.7e7,
           5.6e7, 5.5e7, 5.5e7, 5.4e7, 5.4e7, 5.3e7, 5.3e7, 5.3e7, 5.2e7, 5.2e7,
           5.2e7, 5.1e7, 5.1e7, 5.1e7, 5.0e7, 5.0e7, 5.0e7, 5.0e7, 5.0e7, 4.9e7]
F29_CDLOBA = [4.9e8, 3.1e7, 2.75e7, 2.5e7, 2.45e7, 2.37e7, 2.33e7, 2.3e7, 2.28e7, 2.26e7,
              2.24e7, 2.22e7, 2.2e7, 2.19e7, 2.18e7, 2.17e7, 2.16e7, 2.15e7, 2.14e7, 2.13e7,
              2.12e7, 2.11e7, 2.1e7, 2.1e7, 2.09e7, 2.09e7, 2.08e7, 2.08e7, 2.07e7, 2.07e7,
              2.06e7, 2.06e7, 2.06e7, 2.05e7, 2.05e7, 2.05e7, 2.04e7, 2.04e7, 2.04e7, 2.04e7]
F29_CMAES = [6.3e9, 1.23e7, 4.4e6, 9.3e5, 1.75e5, 3.1e4, 5.7e3, 4.56e3, 4.3e3, 4.15e3,
             4.15e3, 4.15e3, 4.15e3, 4.15e3, 4.15e3, 4.15e3, 4.15e3, 4.15e3, 4.15e3, 4.15e3,
             4.15e3, 4.15e3, 4.15e3, 4.15e3, 4.15e3, 4.15e3, 4.15e3, 4.15e3, 4.15e3, 4.15e3,
             4.15e3, 4.15e3, 4.15e3, 4.15e3, 4.15e3, 4.15e3, 4.15e3, 4.15e3, 4.15e3, 4.15e3]

FUNCS = ["F2", "F3", "F6", "F8", "F9", "F10", "F11", "F12", "F16", "F20", "F28", "F29"]
SERIES = {
    "F2": [F2_WGBO, F2_ESSA, F2_WLSSA, F2_CBA, F2_CDLOBA, F2_CMAES],
    "F3": [F3_WGBO, F3_ESSA, F3_WLSSA, F3_CBA, F3_CDLOBA, F3_CMAES],
    "F6": [F6_WGBO, F6_ESSA, F6_WLSSA, F6_CBA, F6_CDLOBA, F6_CMAES],
    "F8": [F8_WGBO, F8_ESSA, F8_WLSSA, F8_CBA, F8_CDLOBA, F8_CMAES],
    "F9": [F9_WGBO, F9_ESSA, F9_WLSSA, F9_CBA, F9_CDLOBA, F9_CMAES],
    "F10": [F10_WGBO, F10_ESSA, F10_WLSSA, F10_CBA, F10_CDLOBA, F10_CMAES],
    "F11": [F11_WGBO, F11_ESSA, F11_WLSSA, F11_CBA, F11_CDLOBA, F11_CMAES],
    "F12": [F12_WGBO, F12_ESSA, F12_WLSSA, F12_CBA, F12_CDLOBA, F12_CMAES],
    "F16": [F16_WGBO, F16_ESSA, F16_WLSSA, F16_CBA, F16_CDLOBA, F16_CMAES],
    "F20": [F20_WGBO, F20_ESSA, F20_WLSSA, F20_CBA, F20_CDLOBA, F20_CMAES],
    "F28": [F28_WGBO, F28_ESSA, F28_WLSSA, F28_CBA, F28_CDLOBA, F28_CMAES],
    "F29": [F29_WGBO, F29_ESSA, F29_WLSSA, F29_CBA, F29_CDLOBA, F29_CMAES],
}


def sup(e):
    return "10<sup>%d</sup>" % e


Y_TICKS = {
    "F2": ([1e4, 1e6, 1e8, 1e10], [sup(4), sup(6), sup(8), sup(10)]),
    "F3": ([1e4, 1e6, 1e8], [sup(4), sup(6), sup(8)]),
    "F6": ([615, 620, 625, 630, 635, 640, 645, 650, 655],
           ["615", "620", "625", "630", "635", "640", "645", "650", "655"]),
    "F8": ([900, 1000, 1100, 1200, 1300, 1400, 1500],
           ["900", "1000", "1100", "1200", "1300", "1400", "1500"]),
    "F9": ([1000, 1100, 1200, 1300, 1400, 1500, 1600, 1700, 1800],
           ["1000", "1100", "1200", "1300", "1400", "1500", "1600", "1700", "1800"]),
    "F10": ([4000, 6000, 8000, 10000, 12000], ["4000", "6000", "8000", "10000", "12000"]),
    "F11": ([5000, 6000, 7000, 8000, 9000, 10000, 11000, 12000],
            ["5000", "6000", "7000", "8000", "9000", "10000", "11000", "12000"]),
    "F12": ([1202, 1204, 1206, 1208, 1210, 1212], ["1202", "1204", "1206", "1208", "1210", "1212"]),
    "F16": ([1611.5, 1612, 1612.5, 1613, 1613.5, 1614, 1614.5],
            ["1611.5", "1612", "1612.5", "1613", "1613.5", "1614", "1614.5"]),
    "F20": ([1e4, 1e6, 1e8, 1e10], [sup(4), sup(6), sup(8), sup(10)]),
    "F28": ([4000, 6000, 8000, 10000, 12000, 14000, 16000, 18000, 20000],
            ["0.4", "0.6", "0.8", "1", "1.2", "1.4", "1.6", "1.8", "2"]),
    "F29": ([1e4, 1e6, 1e8], [sup(4), sup(6), sup(8)]),
}

# ---------------- layout / style ----------------
W, H = 1232, 1314          # target screen size
OFF = 8                    # default page margin of the html body
FW, FH = W - 2 * OFF, H - 2 * OFF
SERIF = "Liberation Serif"
AXC = "#6e6e6e"
TXT = "#474747"

# axes boxes in screen pixels: left, right, top, bottom
BOX = {
    "F2": (74, 398, 33, 291), "F3": (479, 807, 33, 290), "F6": (899, 1223, 27, 283),
    "F8": (73, 394, 363, 619), "F9": (487, 807, 361, 617), "F10": (913, 1223, 357, 613),
    "F11": (74, 387, 683, 942), "F12": (487, 807, 685, 943), "F16": (917, 1223, 686, 943),
    "F20": (63, 388, 1011, 1261), "F28": (479, 807, 1011, 1261), "F29": (897, 1223, 1011, 1259),
}
TITLE_Y = {"F2": 23, "F3": 23, "F6": 15, "F8": 353, "F9": 350, "F10": 345,
           "F11": 674, "F12": 675, "F16": 675, "F20": 1000, "F28": 1000, "F29": 1000}
XLAB_DY = {"F8": 33, "F20": 32, "F28": 32, "F29": 34}
YLAB_X = {"F2": 28, "F3": 439, "F6": 857, "F8": 23, "F9": 437, "F10": 857,
          "F11": 18, "F12": 437, "F16": 857, "F20": 18, "F28": 445, "F29": 857}
LEG_POS = {"F2": (288, 53), "F3": (697, 53), "F6": (1116, 45), "F8": (283, 382),
           "F9": (697, 379), "F10": (1116, 374), "F11": (276, 702), "F12": (697, 704),
           "F16": (1116, 704), "F20": (277, 1030), "F28": (697, 1030), "F29": (1114, 1030)}
MINOR = {"F2": "log", "F3": "log", "F6": 1, "F8": 50, "F9": 50, "F10": 1000, "F11": 500,
         "F12": 0.5, "F16": 0.1, "F20": "log", "F28": 1000, "F29": "log"}

STYLE = {
    "WGBO": dict(color="#ff0000", dash="solid", symbol="circle-open", size=7),
    "ESSA": dict(color="#f5f500", dash="dot", symbol="x-thin-open", size=7),
    "WLSSA": dict(color="#00e600", dash="dashdot", symbol="cross-thin-open", size=8),
    "CBA": dict(color="#00ffff", dash="dash", symbol="circle", size=6),
    "CDLOBA": dict(color="#0000ff", dash="solid", symbol="square-open", size=7),
    "CMAES": dict(color="#ff00ff", dash="dot", symbol="diamond-open", size=8),
}


def clamp(v):
    return min(1.0, max(0.0, v))


def px_x(p):
    return clamp((p - OFF) / FW)


def px_y(p):
    return clamp(1 - (p - OFF) / FH)


def minor_vals(spec, lo, hi):
    if spec == "log":
        vals = []
        for e in range(0, 13):
            for m in range(1, 10):
                vals.append(m * 10 ** e)
        return vals
    n0 = math.floor(lo / spec)
    n1 = math.ceil(hi / spec)
    return [round(k * spec, 6) for k in range(n0, n1 + 1)]


fig = go.Figure()
layout = dict(width=FW, height=FH, margin=dict(l=0, r=0, t=0, b=0),
              paper_bgcolor="white", plot_bgcolor="white", showlegend=True,
              annotations=[])

tickfont = dict(family=SERIF, size=15, color=TXT, weight="bold")

for i, fn in enumerate(FUNCS):
    n = "" if i == 0 else str(i + 1)
    L, R, T, B = BOX[fn]
    allv = [v for s in SERIES[fn] for v in s]
    lo, hi = min(allv), max(allv)
    llo, lhi = math.log10(lo), math.log10(hi)
    pad = (lhi - llo) * 0.002
    leg = "legend" + n
    for m, ys in zip(METHODS, SERIES[fn]):
        st = STYLE[m]
        if st["symbol"] == "circle":
            mk = dict(symbol="circle", size=st["size"], color=st["color"], line=dict(width=0))
        else:
            mk = dict(symbol=st["symbol"], size=st["size"], color=st["color"],
                      line=dict(width=1.5, color=st["color"]))
        fig.add_trace(go.Scatter(
            x=FES[:len(ys)], y=ys, mode="lines+markers", name=m,
            xaxis="x" + n, yaxis="y" + n, legend=leg, cliponaxis=False,
            line=dict(color=st["color"], width=1.5, dash=st["dash"]),
            marker=mk))
    layout["xaxis" + n] = dict(
        domain=[px_x(L), px_x(R)], anchor="y" + n, range=[FES[0] - 300, FES[-1] + 300],
        tickmode="array", tickvals=XTICK_VALS, ticktext=XTICK_TEXT,
        ticks="inside", ticklen=5, tickcolor=AXC, tickwidth=1, ticklabelstandoff=2,
        showline=True, linecolor=AXC, linewidth=1, mirror="ticks",
        showgrid=False, zeroline=False, tickfont=tickfont,
        minor=dict(ticks="inside", ticklen=3, tickcolor=AXC, dtick=10000, tick0=0, showgrid=False))
    tv, tt = Y_TICKS[fn]
    layout["yaxis" + n] = dict(
        domain=[px_y(B), px_y(T)], anchor="x" + n, type="log",
        range=[llo - pad, lhi + pad],
        tickmode="array", tickvals=tv, ticktext=tt,
        ticks="inside", ticklen=5, tickcolor=AXC, tickwidth=1, ticklabelstandoff=2,
        showline=True, linecolor=AXC, linewidth=1, mirror="ticks",
        showgrid=False, zeroline=False, tickfont=tickfont,
        minor=dict(ticks="inside", ticklen=3, tickcolor=AXC, tickmode="array",
                   tickvals=minor_vals(MINOR[fn], lo, hi), showgrid=False))
    lx, ly = LEG_POS[fn]
    layout[leg] = dict(
        x=px_x(lx - 5), y=px_y(ly - 21), xanchor="left", yanchor="top",
        bgcolor="rgba(0,0,0,0)", borderwidth=0, tracegroupgap=0, itemwidth=30,
        font=dict(family=SERIF, size=13, color="#1a1a1a", weight="bold"))
    cx = (L + R) / 2
    cy = (T + B) / 2
    dy = XLAB_DY.get(fn, 34)
    layout["annotations"].append(dict(
        text="<b>%s</b>" % fn, x=px_x(cx), y=px_y(TITLE_Y[fn]), xref="paper", yref="paper",
        xanchor="center", yanchor="middle", showarrow=False,
        font=dict(family=SERIF, size=19, color="#000000")))
    layout["annotations"].append(dict(
        text="<b>FEs</b>", x=px_x(cx), y=px_y(B + dy), xref="paper", yref="paper",
        xanchor="center", yanchor="middle", showarrow=False,
        font=dict(family=SERIF, size=19, color=TXT)))
    layout["annotations"].append(dict(
        text="<b>Best Value</b>", x=px_x(YLAB_X[fn]), y=px_y(cy), xref="paper", yref="paper",
        xanchor="center", yanchor="middle", showarrow=False, textangle=-90,
        font=dict(family=SERIF, size=19, color=TXT)))
    layout["annotations"].append(dict(
        text="\u00d710<sup>5</sup>", x=px_x(min(R + 2, W - OFF)), y=px_y(B + min(dy, 32)),
        xref="paper", yref="paper", xanchor="right", yanchor="middle", showarrow=False,
        font=dict(family=SERIF, size=15, color=TXT)))
    if fn == "F28":
        layout["annotations"].append(dict(
            text="\u00d710<sup>4</sup>", x=px_x(L + 2), y=px_y(T - 2), xref="paper", yref="paper",
            xanchor="left", yanchor="bottom", showarrow=False,
            font=dict(family=SERIF, size=15, color=TXT)))

fig.update_layout(**layout)
fig.write_html("out.html")
